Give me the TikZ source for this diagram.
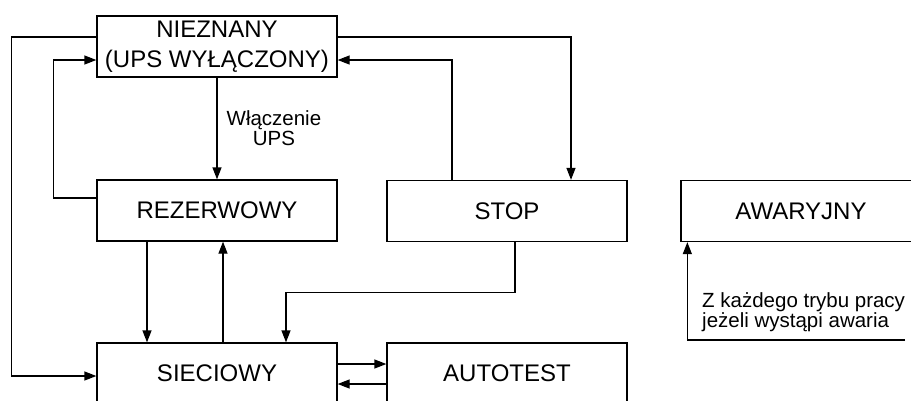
\documentclass[tikz,border=0pt]{standalone}
\usepackage{fontspec}
\setmainfont{Liberation Sans}
\usetikzlibrary{arrows.meta, positioning, calc}

\begin{document}
\begin{tikzpicture}[x=1pt, y=-1pt,
    box/.style={draw, line width=1.3pt, minimum width=240pt, minimum height=61pt, align=center, inner sep=0pt, font=\fontsize{24}{30}\selectfont},
    arrow/.style={-{Triangle[length=12pt, width=9pt]}, line width=1.3pt},
    lbl/.style={font=\fontsize{20.5}{20}\selectfont, inner sep=2pt},
]
    \clip (0,0) rectangle (911,400);

    % States
    \node[box] (niez) at (217, 46.5) {NIEZNANY\\(UPS WYŁĄCZONY)};
    \node[box] (rez) at (217, 210.5) {REZERWOWY};
    \node[box] (siec) at (217, 373.5) {SIECIOWY};
    \node[box] (stop) at (507, 211) {STOP};
    \node[box] (auto) at (507, 373.5) {AUTOTEST};
    \node[box] (awar) at (801, 211) {AWARYJNY};

    % Transitions
    \draw[arrow] (niez.south) -- (rez.north)
        node[lbl, midway, right=7pt, align=center] {Włączenie\\UPS};
    \draw[arrow] ([yshift=9.5pt]niez.west) -- ++(-85,0) |- ([yshift=-2.5pt]siec.west);
    \draw[arrow] ([yshift=12.5pt]rez.west) -- ++(-43,0) |- ([yshift=-13.5pt]niez.west);
    \draw[arrow] ([yshift=9.5pt]niez.east) -| ([xshift=64pt]stop.north);
    \draw[arrow] ([xshift=-55pt]stop.north) |- ([yshift=-13.5pt]niez.east);
    \draw[arrow] ([xshift=-70pt]rez.south) -- ([xshift=-70pt]siec.north);
    \draw[arrow] ([xshift=6pt]siec.north) -- ([xshift=6pt]rez.south);
    \draw[arrow] ([xshift=8pt]stop.south) -- ++(0,50.5) -| ([xshift=69pt]siec.north);
    \draw[arrow] ([yshift=9.5pt]siec.east) -- ([yshift=9.5pt]auto.west);
    \draw[arrow] ([yshift=-10.5pt]auto.west) -- ([yshift=-10.5pt]siec.east);

    % Any state -> emergency
    \coordinate (tail) at (905, 340);
    \draw[arrow] (tail) -| ([xshift=7pt]awar.south west);
    \node[lbl, align=left, anchor=base west] (note) at (700, 327)
        {Z każdego trybu pracy\\jeżeli wystąpi awaria};
\end{tikzpicture}
\end{document}
